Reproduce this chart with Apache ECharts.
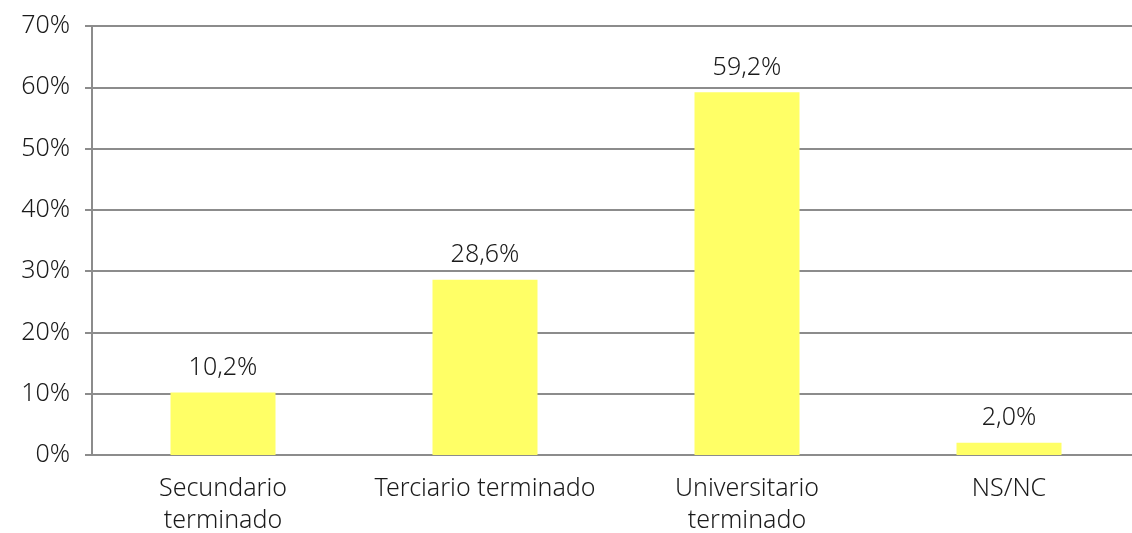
<!DOCTYPE html>
<html>
<head>
<meta charset="utf-8">
<script src="https://cdn.jsdelivr.net/npm/echarts@6/dist/echarts.min.js"></script>
<style>
  html, body { margin: 0; padding: 0; background: #fff; }
  #main { width: 1132px; height: 533px; }
</style>
</head>
<body>
<div id="main"></div>
<script>
var categories = ['Secundario\nterminado', 'Terciario terminado', 'Universitario\nterminado', 'NS/NC'];
var values = [10.2, 28.6, 59.2, 2.0];

var myChart = echarts.init(document.getElementById('main'));
var fontFam = '"Noto Sans", sans-serif';

var option = {
    animation: false,
    grid: { left: 92, right: -8, top: 26, bottom: 78, outerBoundsMode: 'none' },
    xAxis: {
        type: 'category',
        data: categories,
        axisTick: { show: false },
        axisLine: { lineStyle: { color: '#8c8c8c', width: 2 } },
        axisLabel: {
            color: '#1a1a1a', fontSize: 25, fontFamily: fontFam, fontWeight: 300,
            margin: 18, lineHeight: 32, interval: 0
        }
    },
    yAxis: {
        type: 'value',
        min: 0, max: 70, interval: 10,
        axisLine: { show: true, lineStyle: { color: '#8c8c8c', width: 2 } },
        axisTick: { show: true, length: 7, lineStyle: { color: '#8c8c8c', width: 2 } },
        splitLine: { lineStyle: { color: '#8c8c8c', width: 2 } },
        axisLabel: {
            color: '#1a1a1a', fontSize: 25, fontFamily: fontFam, fontWeight: 300, margin: 22,
            formatter: function (v) { return v + '%'; }
        }
    },
    series: [{
        type: 'bar',
        data: values,
        barWidth: 105,
        itemStyle: { color: '#ffff66' },
        label: {
            show: true, position: 'top', distance: 12,
            color: '#1a1a1a', fontSize: 25, fontFamily: fontFam, fontWeight: 300,
            formatter: function (p) { return p.value.toFixed(1).replace('.', ',') + '%'; }
        }
    }]
};

myChart.setOption(option);
</script>
</body>
</html>
